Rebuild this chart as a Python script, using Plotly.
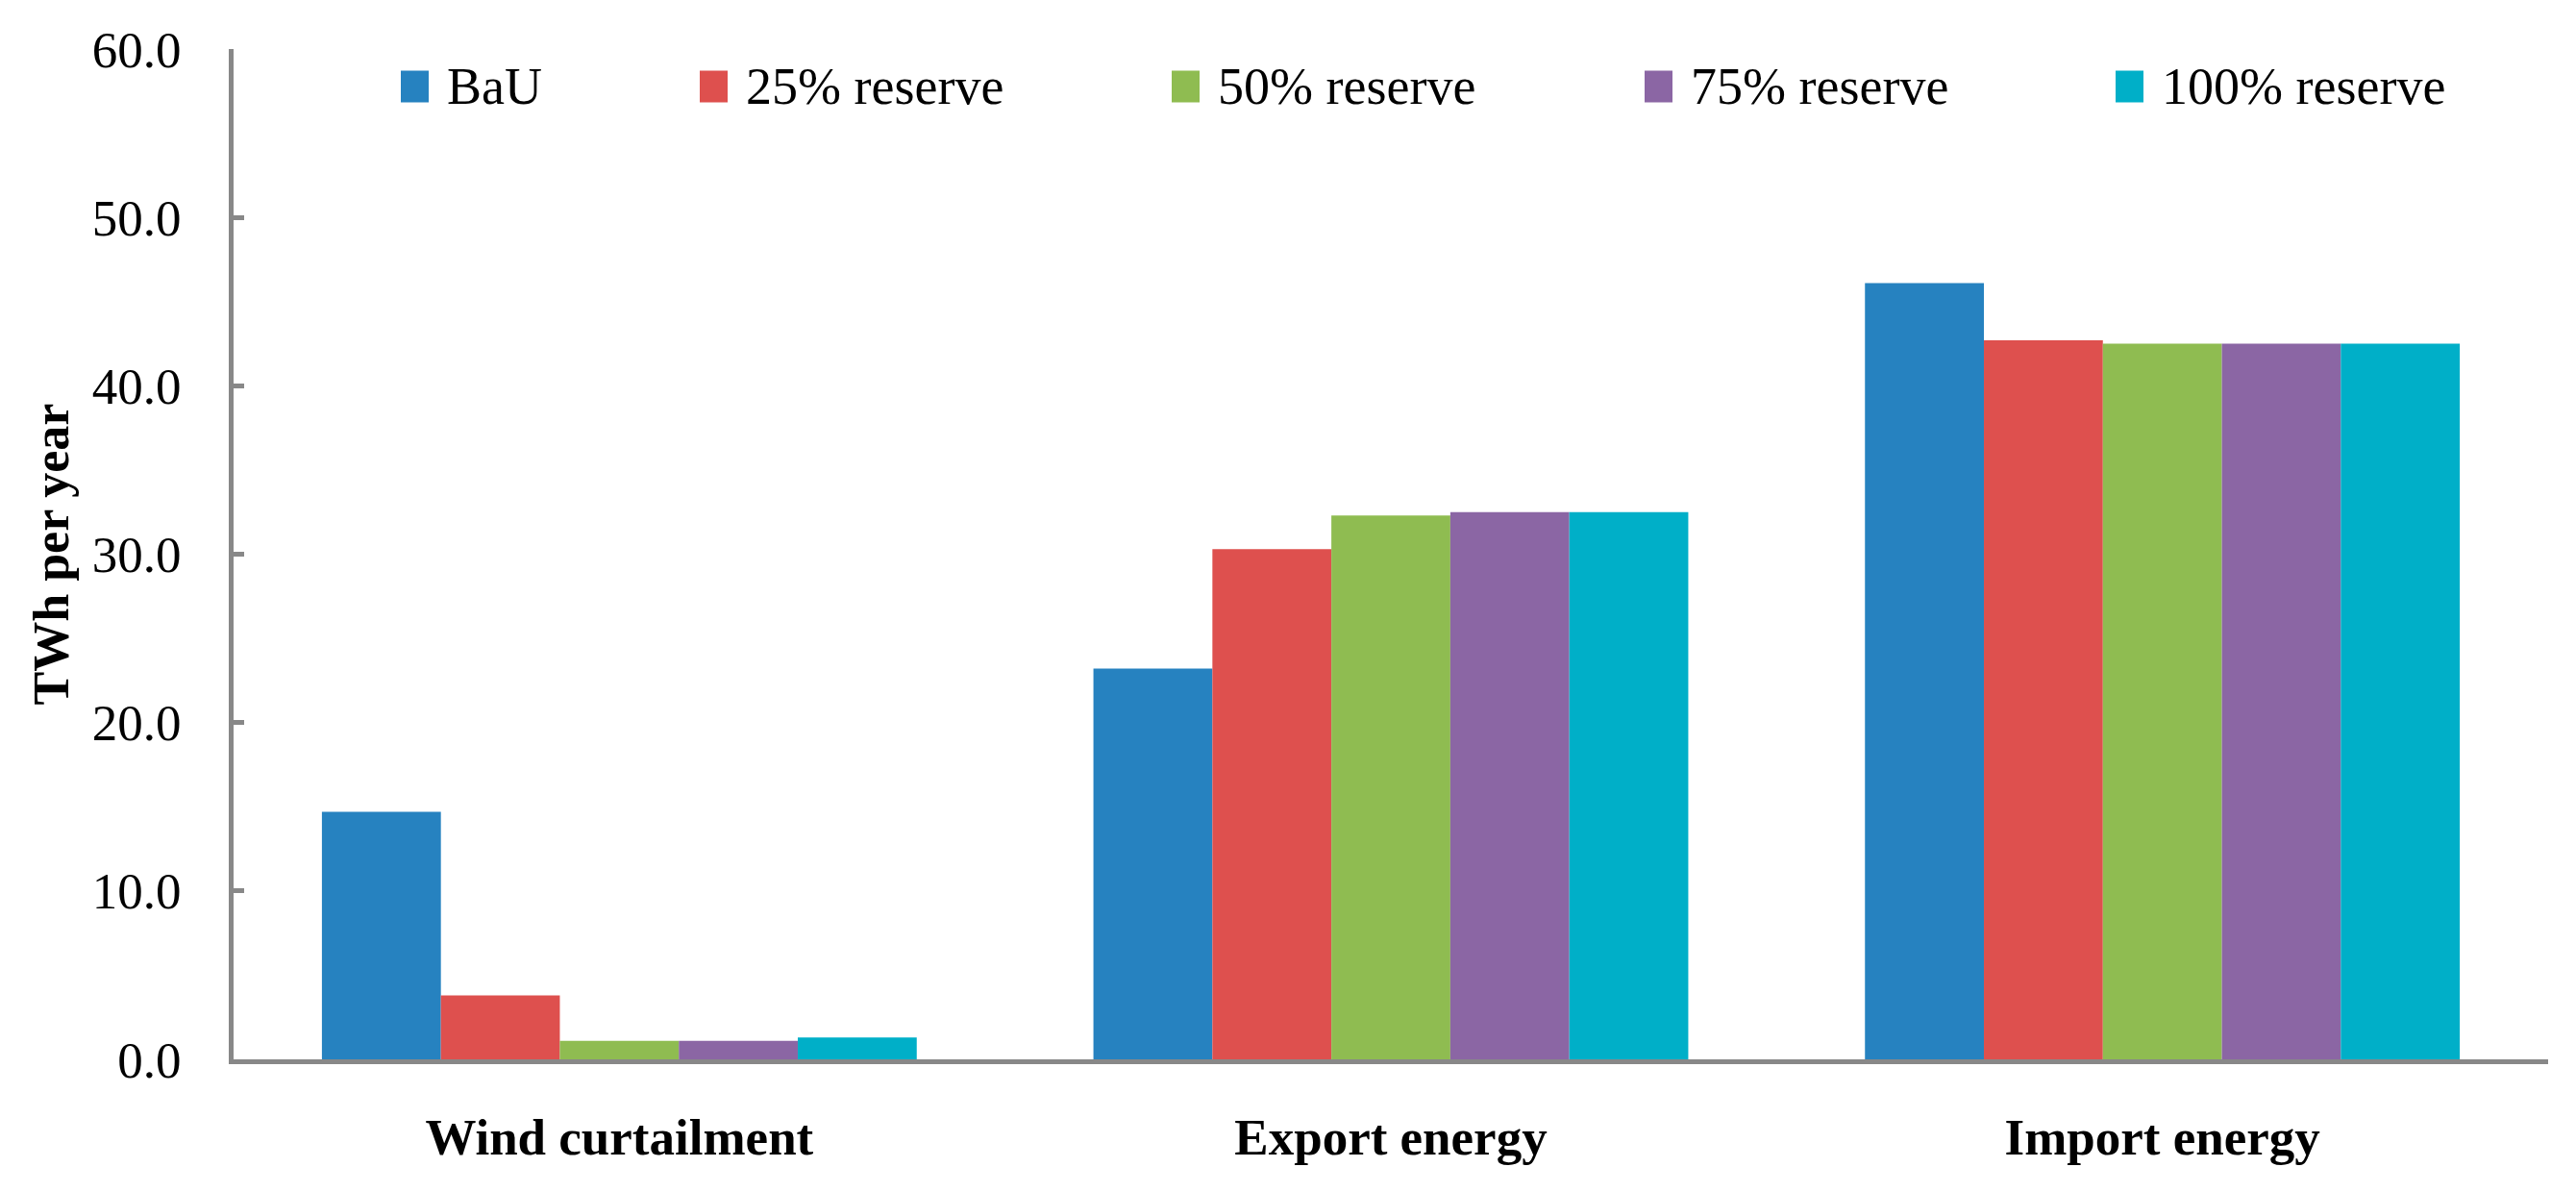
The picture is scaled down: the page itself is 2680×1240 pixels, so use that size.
import plotly.graph_objects as go

categories = ["Wind curtailment", "Export energy", "Import energy"]
series_names = ["BaU", "25% reserve", "50% reserve", "75% reserve", "100% reserve"]
bau = [14.7, 23.2, 46.1]
r25 = [3.8, 30.3, 42.7]
r50 = [1.1, 32.3, 42.5]
r75 = [1.1, 32.5, 42.5]
r100 = [1.3, 32.5, 42.5]
y_ticks = [0, 10, 20, 30, 40, 50, 60]

# styling / layout (not data)
colors = ["#2682C0", "#DE504E", "#8FBC51", "#8B66A4", "#00AFC8"]
FONT = "Liberation Serif"
W, H = 2680, 1240
ML, MR, MT, MB = 235, 37, 43, 146
legend_swatch_px = [409, 720, 1211, 1703, 2193]   # left edge of legend swatches (pixels)
legend_center_px = 82                              # vertical centre of legend row (pixels)

fig = go.Figure()
for name, vals, col in zip(series_names, [bau, r25, r50, r75, r100], colors):
    fig.add_trace(go.Bar(name=name, x=categories, y=vals,
                         marker=dict(color=col, line=dict(width=0))))

pw = W - ML - MR
ph = H - MT - MB
def px_x(p):
    return (p - ML) / pw
def px_y(p):
    return (H - MB - p) / ph

shapes = []
annotations = []
for name, col, sx in zip(series_names, colors, legend_swatch_px):
    shapes.append(dict(type="rect", xref="paper", yref="paper",
                       x0=px_x(sx), x1=px_x(sx + 29),
                       y0=px_y(legend_center_px + 16.5), y1=px_y(legend_center_px - 16.5),
                       fillcolor=col, line=dict(width=0)))
    annotations.append(dict(xref="paper", yref="paper", x=px_x(sx + 46), y=px_y(legend_center_px),
                            xanchor="left", yanchor="middle", showarrow=False, text=name,
                            font=dict(family=FONT, size=54, color="black")))

fig.update_layout(
    width=W, height=H,
    paper_bgcolor="white", plot_bgcolor="white",
    margin=dict(l=ML, r=MR, t=MT, b=MB),
    barmode="group", bargap=0.229, bargroupgap=0,
    font=dict(family=FONT, size=50, color="black"),
    showlegend=False,
    shapes=shapes, annotations=annotations,
)
fig.update_yaxes(range=[0, 60], tickvals=y_ticks, tickformat=".1f", showgrid=False,
                 showline=True, linecolor="#888888", linewidth=5,
                 ticks="inside", ticklen=11, tickwidth=5, tickcolor="#888888",
                 tickfont=dict(family=FONT, size=53), zeroline=False, ticklabelstandoff=39,
                 title=dict(text="<b>TWh per year</b>", font=dict(family=FONT, size=52), standoff=9))
fig.update_xaxes(showline=True, linecolor="#888888", linewidth=5, showgrid=False,
                 ticks="", tickfont=dict(family=FONT, size=53),
                 ticktext=["<b>" + c + "</b>" for c in categories], tickvals=categories,
                 ticklabelstandoff=30)

fig.write_html("out.html")
